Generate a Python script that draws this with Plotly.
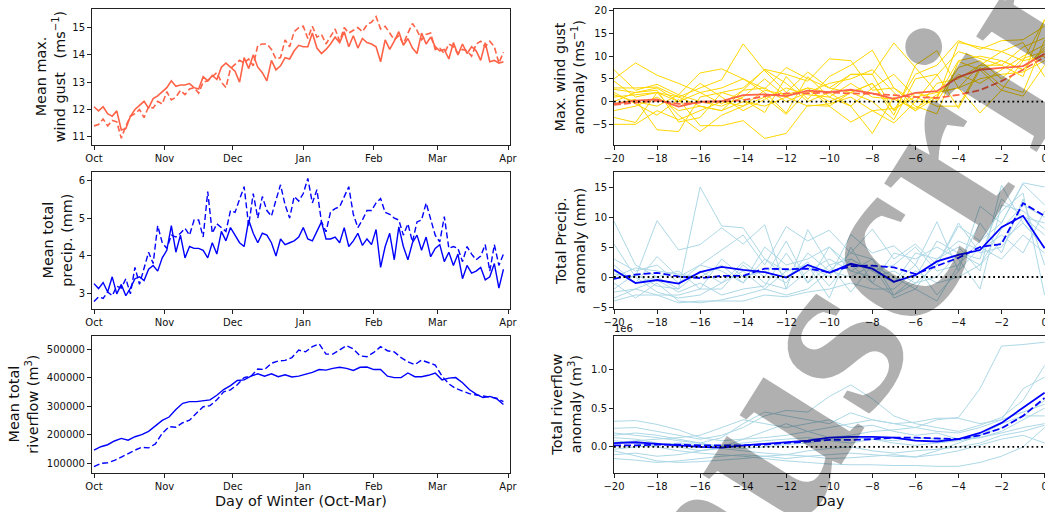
import plotly.graph_objects as go

W, H = 1045, 512

# ---------------- data: left column (daily means, day 0 = 1 Oct) ----------------
month_ticks = [0, 31, 61, 92, 123, 151, 182]
month_labels = ["Oct", "Nov", "Dec", "Jan", "Feb", "Mar", "Apr"]

wind_solid = [
    12.10, 11.95, 12.10, 11.85, 11.75, 11.95, 11.25, 11.30, 11.75, 12.00,
    12.15, 12.30, 12.05, 12.40, 12.50, 12.65, 12.80, 13.05, 12.85, 12.90,
    12.90, 12.95, 12.80, 12.75, 13.20, 13.05, 13.25, 13.10, 13.55, 13.70,
    13.55, 13.40, 13.00, 13.90, 13.50, 14.00, 13.55, 13.35, 13.05, 13.80,
    13.45, 13.60, 13.90, 13.85, 14.15, 14.35, 14.30, 14.30, 14.80, 14.25,
    14.05, 14.20, 14.40, 14.65, 14.45, 14.85, 14.30, 14.70, 14.25, 14.60,
    14.45, 14.40, 14.30, 13.75, 14.55, 14.20, 14.50, 14.85, 14.35, 14.60,
    14.25, 14.05, 14.80, 14.40, 14.65, 14.30, 14.15, 14.20, 13.85, 14.45,
    14.00, 14.40, 14.05, 14.30, 14.15, 13.80, 14.45, 13.75, 13.80, 13.70,
    13.75]
wind_dashed = [
    11.40, 11.45, 11.65, 11.40, 11.60, 11.55, 10.95, 11.40, 11.75, 11.85,
    12.00, 11.70, 12.10, 12.05, 12.30, 12.20, 12.65, 12.35, 12.45, 12.70,
    12.55, 12.75, 12.80, 12.60, 13.00, 13.05, 13.20, 13.35, 13.00, 12.80,
    13.50, 13.65, 13.80, 13.70, 13.85, 13.60, 14.35, 14.40, 14.40, 14.20,
    13.85, 13.90, 14.55, 14.30, 14.85, 15.00, 15.05, 14.60, 15.05, 14.65,
    14.75, 14.40, 14.70, 14.95, 14.50, 15.00, 14.80, 14.90, 15.00, 14.85,
    15.10, 15.20, 15.40, 14.95, 15.05, 14.80, 14.55, 14.70, 14.40, 14.80,
    15.15, 14.90, 14.55, 14.75, 14.80, 14.20, 14.25, 14.05, 14.40, 14.30,
    14.05, 14.20, 14.15, 13.95, 14.40, 14.50, 14.30, 14.50, 14.30, 13.70,
    14.10]
precip_solid = [
    3.27, 3.14, 3.30, 3.05, 3.45, 3.00, 3.25, 2.95, 3.15, 3.40,
    3.45, 3.35, 3.65, 3.75, 3.60, 3.95, 4.15, 4.80, 4.10, 4.55,
    3.95, 4.25, 4.20, 4.20, 4.15, 3.95, 4.35, 4.05, 4.65, 4.40,
    4.75, 4.55, 4.35, 4.25, 4.95, 4.60, 4.35, 4.60, 4.55, 4.35,
    4.00, 4.45, 4.30, 4.35, 4.40, 4.50, 4.75, 4.45, 4.40, 4.65,
    4.90, 4.45, 4.45, 4.50, 4.35, 4.75, 4.25, 4.40, 4.60, 4.28,
    4.45, 4.30, 4.70, 3.70, 4.25, 4.60, 3.90, 4.77, 4.25, 3.90,
    4.35, 4.55, 4.15, 4.50, 3.98, 4.20, 4.30, 3.85, 4.10, 3.75,
    4.05, 3.40, 3.75, 3.55, 3.60, 3.70, 3.37, 3.45, 3.80, 3.15,
    3.65]
precip_dashed = [
    2.80, 2.92, 2.88, 3.05, 2.95, 3.20, 3.15, 3.40, 3.00, 3.70,
    3.25, 3.70, 4.10, 3.80, 4.80, 4.35, 4.20, 4.55, 4.50, 4.60,
    4.73, 4.55, 4.95, 4.95, 4.50, 5.70, 4.60, 4.85, 4.75, 4.65,
    5.20, 5.15, 5.50, 5.83, 4.80, 5.65, 5.00, 5.57, 5.20, 5.05,
    5.48, 5.88, 5.35, 5.00, 5.57, 5.45, 5.65, 6.05, 5.40, 5.75,
    4.90, 4.64, 5.17, 5.25, 5.30, 5.55, 5.83, 5.10, 4.75, 4.95,
    5.20, 5.20, 5.40, 5.52, 5.15, 5.10, 5.00, 4.95, 4.55, 4.85,
    4.37, 4.90, 4.95, 5.40, 4.95, 4.55, 4.37, 5.04, 4.20, 4.25,
    4.20, 3.85, 4.25, 4.05, 3.90, 4.00, 4.30, 3.60, 4.30, 3.75,
    4.05]
days_2 = list(range(0, 181, 2))

river_solid = [
    146000, 158000, 165000, 178000, 187000, 181000, 193000, 200000, 212000, 230000,
    250000, 262000, 288000, 310000, 316000, 316000, 318000, 322000, 338000, 358000,
    372000, 390000, 392000, 405000, 413000, 405000, 413000, 403000, 410000, 402000,
    405000, 412000, 418000, 428000, 426000, 432000, 436000, 432000, 425000, 436000,
    437000, 428000, 428000, 405000, 400000, 400000, 416000, 403000, 403000, 408000,
    416000, 392000, 398000, 400000, 382000, 358000, 342000, 330000, 334000, 326000,
    306000]
river_dashed = [
    88000, 100000, 102000, 110000, 122000, 135000, 146000, 156000, 154000, 168000,
    205000, 228000, 226000, 242000, 251000, 275000, 298000, 302000, 322000, 350000,
    357000, 375000, 400000, 405000, 430000, 428000, 450000, 458000, 460000, 470000,
    496000, 490000, 508000, 518000, 482000, 482000, 496000, 512000, 500000, 476000,
    473000, 488000, 508000, 494000, 490000, 470000, 455000, 445000, 461000, 452000,
    444000, 405000, 378000, 362000, 352000, 344000, 339000, 335000, 333000, 328000,
    316000]
days_3 = list(range(0, 181, 3))

# ---------------- data: right column (composites, day -20..0) ----------------
lag_days = list(range(-20, 1))

gust_mean_solid = [-0.5, 0.2, 0.5, -1.1, 0.0, 0.1, 1.4, 1.6, 1.2, 2.4, 2.1,
                   2.6, 1.8, 0.6, 1.9, 2.3, 5.4, 7.0, 7.4, 7.8, 10.5]
gust_mean_dashed = [-0.7, -0.3, 0.2, -0.5, -0.2, 0.0, 0.3, 1.2, 1.8, 1.8, 2.0,
                    1.8, 1.7, 1.4, 1.0, 0.8, 1.5, 2.5, 4.5, 7.0, 9.8]
gust_members = [
    [7.0, 2.5, 3.8, 1.5, 6.3, 7.2, 5.0, 2.8, 7.5, 5.0, 3.0, 2.0, 4.0, -2.0, 6.0, 8.0, 13.4, 11.5, 13.4, 13.6, 16.6],
    [5.0, 8.5, 5.8, 4.0, 2.0, -0.5, 2.5, 7.1, 6.0, 4.5, 9.4, 9.0, 2.5, 3.0, 0.0, 5.8, 11.0, 9.5, 8.0, 12.0, 14.0],
    [3.0, 3.0, 3.2, 1.0, 3.0, 4.8, 12.7, 6.8, 2.0, 6.5, 3.0, 6.0, 6.0, 12.9, 7.5, 2.0, 3.0, 8.0, 11.0, 9.0, 18.0],
    [2.7, 2.0, 2.5, -4.5, -3.5, 2.0, 0.5, -2.4, 5.5, 0.5, 5.5, 8.0, 11.3, 3.0, -1.0, -2.7, 8.8, 7.0, 9.0, 7.0, 12.0],
    [2.0, -0.5, -3.0, 0.5, -5.3, -5.3, -4.2, -8.1, -7.0, -0.8, -1.0, -4.5, -2.0, -4.7, 0.0, 0.0, 7.5, 9.0, 5.0, 9.5, 11.0],
    [1.0, 1.5, 2.0, -3.0, -6.6, -3.0, -1.0, 1.0, -2.8, 2.5, 0.0, 2.0, 4.0, -3.0, 8.0, 11.2, 3.0, -2.5, 2.5, 1.2, 8.0],
    [-0.5, 0.5, -6.2, -6.6, 1.0, 2.0, 3.0, 7.0, 4.0, 0.0, 2.0, 6.0, 6.0, -2.0, 2.0, 0.5, 13.0, 12.0, 11.0, 13.0, 5.5],
    [-3.5, -4.6, 2.0, 0.0, 2.0, 3.0, 5.0, 2.0, -2.5, 5.5, 1.0, -1.0, -7.0, 1.0, -2.0, 1.0, 9.0, 10.0, 9.0, 7.0, 11.5],
    [-5.0, -5.0, -2.0, -4.0, -2.0, 0.0, -1.0, 2.5, 1.5, 3.0, -1.0, 2.0, 0.0, -4.0, 5.0, 6.0, -1.5, 7.0, 2.5, 9.0, 10.0],
    [4.5, 1.0, 2.0, 1.0, -1.0, -2.0, 2.5, 3.0, 0.0, 2.0, 4.0, 5.0, 7.0, 2.0, -2.0, 4.0, 5.0, 8.0, 8.0, 5.5, 18.0],
    [1.5, 0.0, -1.0, 1.5, 0.0, -1.0, 1.0, 5.0, 1.0, 3.0, 2.0, -1.0, 3.0, 6.0, 1.0, -1.0, -1.0, 7.5, 3.5, 2.0, 13.5],
    [0.0, 2.0, 3.0, 0.0, 4.0, 1.0, -2.0, 0.5, 3.0, 1.5, 1.0, 4.0, 1.0, 0.5, -1.5, 1.5, 6.0, 4.0, 7.0, 10.0, 12.5],
    [-2.0, -1.0, 1.0, -2.0, -1.0, -2.0, 0.0, -1.0, 1.0, -1.0, -0.5, 1.0, -2.0, -1.5, 1.0, 2.0, 3.0, 5.0, 6.0, 6.5, 9.0],
]

precip_mean_solid = [1.2, -1.0, -0.5, -1.1, 0.8, 1.7, 1.2, 0.8, -0.1, 2.0, 0.7,
                     2.2, 1.4, -0.8, 0.3, 2.6, 3.7, 4.5, 8.3, 10.2, 4.8]
precip_mean_dashed = [-0.3, 0.4, 0.7, 0.1, -0.2, 0.2, 0.2, 1.4, 1.3, 1.4, 0.8,
                      1.8, 1.9, 1.6, 0.5, 1.8, 3.2, 5.0, 5.5, 12.3, 10.2]
precip_members = [
    [9.3, 2.0, 0.0, -2.0, 15.0, 8.5, 8.2, 3.0, 1.0, 2.0, 0.0, 7.1, 4.0, 5.2, 2.0, 9.2, 1.0, 11.8, 9.0, 15.7, 15.0],
    [5.5, 0.0, 9.4, 4.5, 5.4, 8.2, 5.5, 8.7, -2.0, 7.9, 2.0, 3.0, 1.0, -1.0, 4.0, 3.0, 5.0, 1.0, 15.3, 9.0, 5.0],
    [2.0, -1.0, 3.4, 0.0, 2.0, 4.5, 7.0, 2.0, 8.4, 6.0, 7.8, 4.0, 8.0, 3.0, 5.5, 2.0, 8.5, 6.0, 11.0, 14.0, -3.0],
    [0.5, 0.0, -2.5, -3.5, -3.0, -1.0, 1.0, -2.0, 1.0, 2.0, -3.5, 5.0, -1.0, -3.0, 0.0, 6.0, 4.0, 3.0, 13.0, 10.0, 9.0],
    [-1.0, -3.5, -1.0, -4.0, -4.3, -3.8, -3.0, -2.0, -3.0, -2.0, 1.0, 0.0, 2.0, -3.5, -2.0, -4.0, 2.0, 6.0, 9.0, 15.5, 12.0],
    [-4.0, -3.0, -3.0, -4.3, -4.0, -4.0, -4.0, -3.0, -3.3, -2.5, -2.0, -1.0, -2.0, -2.0, 1.0, -1.0, 0.0, 2.0, 6.0, 9.0, 5.0],
    [-2.5, -2.0, -3.0, -3.0, -2.0, -2.0, 2.0, -1.0, -2.0, 1.0, 3.0, 1.0, 3.0, -3.0, -1.0, 0.0, 4.0, 2.0, 8.0, 12.0, 10.0],
    [3.0, 1.0, 2.0, -1.0, 2.0, 1.0, -1.0, 5.0, 2.0, 3.0, 5.0, 2.0, -1.0, 4.0, 3.0, 5.0, 3.0, -2.0, 12.0, 11.0, 8.0],
    [-3.5, -2.0, -0.5, -2.5, -1.0, -3.0, -2.0, -1.5, 4.0, -1.0, 5.0, 1.0, 0.0, 1.0, -1.0, 2.0, 9.0, 4.0, 5.0, 10.0, 7.0],
    [1.0, -1.0, 0.0, 1.0, -2.0, 3.0, 0.0, 1.0, -1.0, 4.0, 1.0, 4.0, 3.0, -1.0, 2.0, -3.0, 1.0, 5.0, 3.0, 7.0, 4.0],
    [-2.0, 0.5, -1.5, -2.0, 1.0, -1.0, 2.5, 0.0, 6.0, -1.0, 2.0, -2.5, 2.0, 0.0, -2.0, 3.0, 6.0, 4.5, 7.0, 4.0, 11.0],
    [0.0, 1.5, 1.0, 0.5, 0.0, 2.0, -1.0, 3.0, 0.0, 2.5, -1.5, 3.0, 1.0, 2.0, 5.0, 1.0, 2.0, 9.0, 4.0, 13.0, 2.0],
]

# riverflow anomalies in units of 1e6 m^3
river_mean_solid = [0.05, 0.06, 0.04, 0.02, 0.00, -0.01, 0.02, 0.04, 0.06, 0.08, 0.12,
                    0.13, 0.13, 0.12, 0.08, 0.07, 0.10, 0.18, 0.31, 0.50, 0.70]
river_mean_dashed = [0.02, 0.02, 0.03, 0.03, 0.02, 0.02, 0.02, 0.03, 0.05, 0.07, 0.09,
                     0.09, 0.10, 0.12, 0.12, 0.11, 0.10, 0.15, 0.24, 0.40, 0.63]
river_members = [
    [0.33, 0.34, 0.29, 0.22, 0.12, 0.08, 0.10, 0.12, 0.15, 0.20, 0.25, 0.30, 0.35, 0.30, 0.25, 0.35, 0.38, 0.75, 1.30, 1.32, 1.35],
    [0.24, 0.25, 0.20, 0.15, 0.10, 0.15, 0.25, 0.40, 0.47, 0.45, 0.65, 0.80, 0.62, 0.40, 0.30, 0.25, 0.20, 0.28, 0.38, 0.60, 1.05],
    [0.18, 0.15, 0.12, 0.08, 0.05, 0.12, 0.30, 0.45, 0.40, 0.35, 0.30, 0.44, 0.35, 0.30, 0.32, 0.37, 0.37, 0.30, 0.35, 0.75, 0.90],
    [0.12, 0.10, 0.05, 0.00, -0.05, 0.00, 0.10, 0.20, 0.30, 0.20, 0.12, 0.15, 0.20, 0.22, 0.25, 0.20, 0.18, 0.25, 0.35, 0.45, 0.55],
    [0.05, 0.08, 0.10, 0.12, 0.15, 0.25, 0.35, 0.30, 0.25, 0.30, 0.35, 0.25, 0.28, 0.20, 0.15, 0.18, 0.10, 0.15, 0.30, 0.40, 0.40],
    [-0.03, 0.00, 0.02, 0.05, 0.03, 0.02, 0.05, 0.08, 0.10, 0.12, 0.08, 0.05, 0.10, 0.08, 0.12, 0.10, 0.10, 0.12, 0.18, 0.25, 0.30],
    [-0.10, -0.08, -0.12, -0.10, -0.05, -0.02, -0.05, -0.08, -0.10, -0.05, -0.02, 0.00, -0.05, -0.08, -0.05, -0.03, 0.00, 0.05, 0.15, 0.20, 0.28],
    [-0.15, -0.17, -0.20, -0.18, -0.15, -0.12, -0.10, -0.12, -0.15, -0.12, -0.10, -0.08, -0.10, -0.12, -0.13, -0.10, -0.05, 0.02, 0.10, 0.15, 0.05],
    [0.08, 0.05, 0.00, -0.05, -0.08, -0.10, -0.12, -0.15, -0.18, -0.20, -0.22, -0.23, -0.23, -0.24, -0.24, -0.25, -0.25, -0.20, -0.12, 0.00, 0.25],
    [-0.05, -0.12, -0.18, -0.20, -0.19, -0.17, -0.15, -0.12, -0.10, -0.12, -0.15, -0.14, -0.12, -0.10, -0.13, -0.05, 0.05, 0.15, 0.25, 0.40, 0.60],
    [0.15, 0.18, 0.15, 0.10, 0.05, 0.00, -0.02, 0.00, 0.03, 0.05, 0.10, 0.12, 0.10, 0.05, 0.02, 0.05, 0.08, 0.12, 0.20, 0.35, 0.50],
]

# ---------------- styling ----------------
FONT = "DejaVu Sans"
TOMATO = "#ff6347"
BLUE = "#0000ff"
GOLD = "#ffd700"
LIGHTBLUE = "#add8e6"

fig = go.Figure()


def line(x, y, ax, color, width, dash="solid"):
    fig.add_trace(go.Scatter(x=x, y=y, mode="lines", xaxis="x" + ax, yaxis="y" + ax,
                             line=dict(color=color, width=width, dash=dash),
                             showlegend=False, hoverinfo="skip"))


# left column
line(days_2, wind_solid, "", TOMATO, 1.6)
line(days_2, wind_dashed, "", TOMATO, 1.6, "6px,3px")
line(days_2, precip_solid, "3", BLUE, 1.4)
line(days_2, precip_dashed, "3", BLUE, 1.4, "6px,3px")
line(days_3, river_solid, "5", BLUE, 1.4)
line(days_3, river_dashed, "5", BLUE, 1.4, "6px,3px")

# right column
zero_x = [lag_days[0], lag_days[-1]]
for m in gust_members:
    line(lag_days, m, "2", GOLD, 1.0)
line(lag_days, gust_mean_solid, "2", TOMATO, 1.8)
line(lag_days, gust_mean_dashed, "2", TOMATO, 1.8, "7px,3px")
line(zero_x, [0, 0], "2", "black", 1.8, "1.8px,3px")

for m in precip_members:
    line(lag_days, m, "4", LIGHTBLUE, 1.0)
line(lag_days, precip_mean_solid, "4", BLUE, 1.8)
line(lag_days, precip_mean_dashed, "4", BLUE, 1.8, "7px,3px")
line(zero_x, [0, 0], "4", "black", 1.8, "1.8px,3px")

for m in river_members:
    line(lag_days, m, "6", LIGHTBLUE, 1.0)
line(lag_days, river_mean_solid, "6", BLUE, 1.8)
line(lag_days, river_mean_dashed, "6", BLUE, 1.8, "7px,3px")
line(zero_x, [0, 0], "6", "black", 1.8, "1.8px,3px")

# ---------------- axes ----------------
def px_x(p):
    return p / W


def px_y(p):
    return 1 - p / H


LEFT_DOM = [px_x(92), px_x(510)]
RIGHT_DOM = [px_x(614), 1.0]
ROWS = [(9.3, 145.0), (172.3, 309.0), (336.0, 473.3)]

axis_common = dict(showline=True, mirror=True, linecolor="#222", linewidth=1,
                   ticks="outside", ticklen=4, tickwidth=1, tickcolor="#222",
                   showgrid=False, zeroline=False, automargin=False,
                   ticklabeloverflow="allow",
                   tickfont=dict(family=FONT, size=10, color="#111"))

layout_axes = {}
specs = [
    ("", "left", 0, [10.70, 15.67], dict(tickvals=[11, 12, 13, 14, 15])),
    ("2", "right", 0, [-9.55, 20.3], dict(tickvals=[-5, 0, 5, 10, 15, 20])),
    ("3", "left", 1, [2.60, 6.21], dict(tickvals=[3, 4, 5, 6])),
    ("4", "right", 1, [-5.33, 17.45], dict(tickvals=[-5, 0, 5, 10, 15])),
    ("5", "left", 2, [65000, 545500], dict(tickvals=[100000, 200000, 300000, 400000, 500000],
                                          ticktext=["100000", "200000", "300000", "400000", "500000"])),
    ("6", "right", 2, [-0.34, 1.43], dict(tickvals=[0.0, 0.5, 1.0], ticktext=["0.0", "0.5", "1.0"])),
]
right_ticks = list(range(-20, 1, 2))
for ax, side, row, yr, yextra in specs:
    top, bot = ROWS[row]
    xname = "xaxis" + ax
    yname = "yaxis" + ax
    if side == "left":
        xa = dict(domain=LEFT_DOM, range=[-0.88, 182.88], tickvals=month_ticks,
                  ticktext=month_labels, anchor="y" + ax, **axis_common)
    else:
        xa = dict(domain=RIGHT_DOM, range=[-20, 0.02], tickvals=right_ticks,
                  ticktext=[str(v).replace("-", "\u2212") for v in right_ticks],
                  anchor="y" + ax, **axis_common)
    ya = dict(domain=[px_y(bot), px_y(top)], range=yr, anchor="x" + ax, **axis_common, **yextra)
    layout_axes[xname] = xa
    layout_axes[yname] = ya

# ---------------- annotations ----------------
ann = []
TITLE_SIZE = 14.4


def ytitle(text, xc, row):
    top, bot = ROWS[row]
    ann.append(dict(text=text, x=px_x(xc), y=px_y((top + bot) / 2), xref="paper", yref="paper",
                    xanchor="center", yanchor="middle", textangle=-90, showarrow=False,
                    font=dict(family=FONT, size=TITLE_SIZE, color="#111")))


nb = "\u00a0"
ytitle("Mean max.<br>wind gust" + nb * 3 + "(ms<sup>\u22121</sup>)", 50, 0)
ytitle("Mean total<br>precip. (mm)", 58, 1)
ytitle("Mean total<br>riverflow (m<sup>3</sup>)", 24, 2)
ytitle("Max. wind gust<br>anomaly (ms<sup>\u22121</sup>)", 569, 0)
ytitle("Total Precip.<br>anomaly (mm)", 571, 1)
ytitle("Total riverflow<br>anomaly (m<sup>3</sup>)", 567, 2)

ann.append(dict(text="Day of Winter (Oct-Mar)", x=px_x(301), y=px_y(501), xref="paper", yref="paper",
                xanchor="center", yanchor="middle", showarrow=False,
                font=dict(family=FONT, size=TITLE_SIZE, color="#111")))
ann.append(dict(text="Day", x=px_x(830), y=px_y(501), xref="paper", yref="paper",
                xanchor="center", yanchor="middle", showarrow=False,
                font=dict(family=FONT, size=TITLE_SIZE, color="#111")))
ann.append(dict(text="1e6", x=px_x(612), y=px_y(328), xref="paper", yref="paper",
                xanchor="left", yanchor="middle", showarrow=False,
                font=dict(family=FONT, size=10, color="#111")))

# watermark
ann.append(dict(text="<b>Manuscript</b>", x=px_x(790), y=px_y(390), xref="paper", yref="paper",
                xanchor="center", yanchor="middle", textangle=-58, showarrow=False,
                font=dict(family="Liberation Serif", size=245, color="rgba(0,0,0,0.31)")))

fig.update_layout(
    width=W, height=H, template="none",
    margin=dict(l=0, r=0, t=0, b=0),
    paper_bgcolor="white", plot_bgcolor="white",
    showlegend=False, annotations=ann,
    **layout_axes,
)

fig.write_html("out.html", config={"displayModeBar": False},
               post_script="document.body.style.margin='0px';document.body.style.overflow='hidden';")
